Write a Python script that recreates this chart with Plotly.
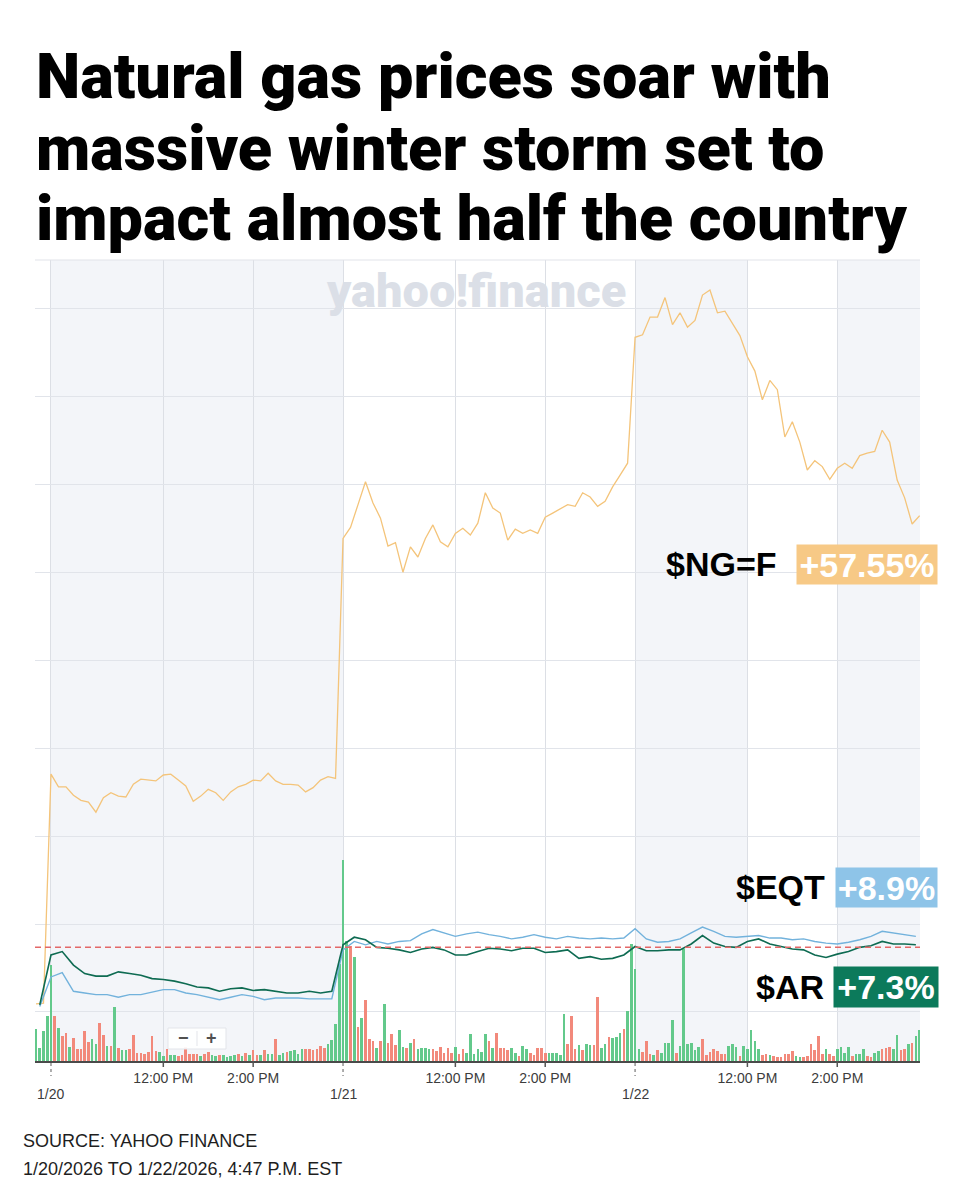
"""Natural gas vs. EQT / AR intraday percent change, 1/20 - 1/22/2026."""

import plotly.graph_objects as go

# x axis: 5-minute bar index, 0 = 1/20 9:30 AM, 78 bars per session
day_ticks = [0, 78, 156]
day_labels = ["1/20", "1/21", "1/22"]
time_ticks = [30, 54, 108, 132, 186, 210]
time_labels = ["12:00 PM", "2:00 PM", "12:00 PM", "2:00 PM", "12:00 PM", "2:00 PM"]

# $NG=F percent change, every 10 minutes starting at bar -4
ng_pct = [
    0.0, 0.1,
    27.2, 25.7, 25.7, 24.7, 24.1, 23.9, 22.7, 24.4, 25.0, 24.6, 24.5, 26.0, 26.6,
    26.5, 26.4, 27.1, 27.2, 26.5, 25.8, 24.0, 24.6, 25.4, 25.0, 24.1, 25.1, 25.7,
    26.0, 26.5, 26.4, 27.3, 26.4, 26.0, 26.0, 25.9, 25.1, 25.6, 26.5, 26.9, 26.7,
    55.1, 56.4, 59.1, 61.8, 59.3, 57.5, 54.2, 54.6, 51.1, 54.1, 52.9, 55.1, 56.7,
    54.7, 54.1, 55.7, 56.3, 55.5, 56.9, 60.5, 58.7, 58.1, 54.9, 56.2, 55.7, 56.1,
    55.7, 57.6, 58.1, 58.6, 59.1, 58.9, 60.5, 60.0, 58.9, 59.5, 61.2, 62.6, 64.0,
    78.9, 79.2, 81.3, 81.3, 83.6, 80.4, 81.8, 80.1, 80.9, 83.9, 84.5, 81.8, 82.0,
    80.6, 79.1, 76.6, 74.9, 71.5, 73.8, 72.7, 67.1, 68.9, 66.5, 63.2, 64.3, 63.6,
    62.1, 63.4, 64.0, 63.4, 64.9, 65.2, 65.4, 67.9, 66.5, 62.0, 59.9, 56.8, 57.8,
]

# $EQT and $AR percent change, every 15 minutes starting at bar -3
eqt_pct = [
    -0.3, 3.2, 3.7, 1.5, 1.3, 1.1, 1.1, 0.8, 1.1, 1.1, 1.4, 1.7, 1.7, 1.3,
    1.1, 0.8, 0.5, 0.8, 1.1, 0.9, 0.5, 0.7, 0.7, 0.7, 0.6, 0.6, 0.6,
    6.4, 7.4, 7.0, 7.4, 7.1, 7.4, 7.5, 8.3, 8.8, 8.4, 8.0, 8.3, 8.5, 8.2,
    8.0, 7.7, 7.9, 8.2, 7.9, 7.7, 8.0, 7.8, 7.7, 7.8, 7.7, 7.8, 8.9, 7.7,
    7.3, 7.4, 7.7, 8.4, 9.1, 8.6, 8.0, 7.9, 8.0, 8.1, 7.8, 7.8, 7.6, 7.7,
    7.4, 7.2, 7.1, 7.3, 7.6, 8.0, 8.6, 8.4, 8.2, 8.0,
]
ar_pct = [
    -0.1, 5.8, 6.2, 4.6, 3.6, 3.3, 3.3, 3.8, 3.6, 3.4, 3.0, 2.9, 2.7, 2.4,
    2.0, 1.9, 1.5, 1.8, 1.9, 1.6, 1.7, 1.5, 1.3, 1.3, 1.5, 1.3, 1.5,
    7.0, 7.9, 7.6, 6.7, 6.6, 6.4, 6.1, 6.5, 6.7, 6.4, 5.8, 5.8, 6.2, 6.6,
    6.5, 6.3, 6.6, 6.6, 6.1, 6.2, 6.4, 5.4, 5.6, 5.3, 5.4, 5.8, 6.8, 6.3,
    6.3, 6.4, 6.4, 7.1, 8.1, 7.2, 6.8, 6.7, 7.4, 7.7, 7.1, 6.8, 6.5, 6.4,
    5.8, 5.5, 5.9, 6.2, 6.7, 6.9, 7.4, 7.1, 7.1, 7.0,
]
ref_line_pct = 6.7

# $NG=F volume per 5-minute bar (relative units), starting at bar -4
volume = [
    32, 13, 30, 45,
    96, 45, 33, 25, 28, 14, 23, 12, 12, 30, 19, 22, 17, 38, 26, 15, 15, 54, 13, 11,
    11, 12, 26, 8, 8, 7, 9, 25, 10, 9, 5, 12, 6, 6, 5, 6, 14, 7, 7, 7, 5, 7, 9, 6,
    5, 6, 6, 4, 5, 6, 7, 5, 8, 6, 11, 6, 6, 11, 7, 7, 22, 6, 8, 9, 10, 11, 7, 12,
    12, 12, 11, 12, 15, 13, 17, 21, 37, 97,
    201, 120, 115, 104, 34, 43, 61, 22, 20, 13, 20, 57, 18, 27, 16, 31, 14, 13, 18,
    22, 12, 13, 13, 12, 12, 10, 14, 8, 13, 8, 14, 7, 12, 8, 27, 7, 12, 9, 27, 20,
    13, 28, 13, 13, 11, 13, 8, 5, 15, 12, 8, 6, 13, 13, 8, 8, 8, 8, 6, 47, 17, 45,
    12, 16, 11, 17, 16, 16, 64, 13, 17, 24, 23, 24, 28, 32, 50, 117, 92, 12, 9, 20,
    7, 6, 11, 8, 18, 18, 41, 8, 15, 112, 17, 18, 11, 14, 22, 6, 9, 12, 10, 7, 7, 15,
    17, 14, 5, 15, 12, 31, 20, 12, 6, 7, 6, 5, 4, 4, 7, 7, 10, 5, 4, 4, 5, 17, 11,
    25, 7, 12, 7, 5, 12, 14, 8, 14, 5, 7, 7, 12, 5, 4, 8, 10, 12, 13, 14, 12, 26,
    11, 12, 17, 18, 25, 31,
]
# g = bar closed up, r = closed down
volume_dir = (
    "gggg"
    "grgrrgrrrr" "rggrrgrgrg" "grrrrrrrrg" "grggrrrrrr" "grrggrgggg"
    "rgrgrrgrgg" "rggrggggrr" "rrrrgggg"
    "ggrgrgrrrg" "rgrrrggrgr" "ggggrrrrrr" "grrggggggr" "grrrrggrgg"
    "rrrrrggggg" "rrrgrggrrg" "grgggrgggg" "rr"
    "rgrggggrgg" "ggggrrrrrr" "rgggrggggg" "rrgrrrrrrg" "grrrrrrgrr"
    "ggggrgggrr" "ggrrrggrrg" "rgg"
)

ng_x = list(range(-4, -4 + 2 * len(ng_pct), 2))
line_x = list(range(-3, -3 + 3 * len(eqt_pct), 3))
vol_x = list(range(-4, -4 + len(volume)))

# canvas geometry (pixels on the page); the page body adds an 8px offset
W, H = 960, 1200
OFF = 8
PL, PR, PT, PB = 35, 920, 260, 1061
X0, X1 = -4.27, 232.1
Y0, Y1 = -6.75, 88.05

NG_COLOR = "#f4c47a"
EQT_COLOR = "#72b2dc"
AR_COLOR = "#0e6b52"
UP_COLOR = "#63c98b"
DOWN_COLOR = "#f2897b"
GRID = "#e1e4ea"
SHADE = "#f3f5f9"
FONT = "Liberation Sans, Arial, sans-serif"


def px(xp):
    return (xp - PL) / (PR - PL)


def py(yp):
    return (PB - yp) / (PB - PT)


def xpaper(idx):
    return (idx - X0) / (X1 - X0)


fig = go.Figure()

fig.add_trace(go.Bar(
    x=vol_x, y=volume, yaxis="y",
    marker=dict(color=[UP_COLOR if d == "g" else DOWN_COLOR for d in volume_dir],
                line=dict(width=0)),
    width=0.7, hoverinfo="skip",
))
fig.add_trace(go.Scatter(x=ng_x, y=ng_pct, yaxis="y2", mode="lines",
                         line=dict(color=NG_COLOR, width=1.3)))
fig.add_trace(go.Scatter(x=line_x, y=eqt_pct, yaxis="y2", mode="lines",
                         line=dict(color=EQT_COLOR, width=1.4)))
fig.add_trace(go.Scatter(x=line_x, y=ar_pct, yaxis="y2", mode="lines",
                         line=dict(color=AR_COLOR, width=1.6)))

shapes = []
# shaded sessions
for a, b in [(0, 78), (156, 186), (210, X1)]:
    shapes.append(dict(type="rect", xref="x", yref="paper", x0=a, x1=b, y0=0, y1=1,
                       fillcolor=SHADE, line=dict(width=0), layer="below"))
# top border
shapes.append(dict(type="line", xref="paper", yref="paper", x0=0, x1=1, y0=1, y1=1,
                   line=dict(color=GRID, width=1.2)))
# reference dashed line
shapes.append(dict(type="line", xref="x", yref="y2", x0=X0, x1=X1,
                   y0=ref_line_pct, y1=ref_line_pct,
                   line=dict(color="#e36868", width=1.5, dash="6px,4px")))
# tick marks below the axis
for t in time_ticks:
    shapes.append(dict(type="line", xref="paper", yref="paper", x0=xpaper(t), x1=xpaper(t),
                       y0=0, y1=-6 / (PB - PT), line=dict(color="#555555", width=1.5)))
for t in day_ticks:
    shapes.append(dict(type="line", xref="paper", yref="paper", x0=xpaper(t), x1=xpaper(t),
                       y0=-2 / (PB - PT), y1=-15 / (PB - PT),
                       line=dict(color="#777777", width=1.2, dash="dot")))
# zoom control
shapes.append(dict(type="rect", xref="paper", yref="paper", x0=px(168), x1=px(226),
                   y0=py(1049), y1=py(1028), fillcolor="rgba(255,255,255,0.92)",
                   line=dict(color="#e3e5ea", width=1)))
shapes.append(dict(type="line", xref="paper", yref="paper", x0=px(197), x1=px(197),
                   y0=py(1046), y1=py(1031), line=dict(color="#e3e5ea", width=1)))

annotations = []
title_lines = [
    "Natural gas prices soar with",
    "massive winter storm set to",
    "impact almost half the country",
]
for line, yc in zip(title_lines, [76, 148, 218]):
    annotations.append(dict(
        text=line, xref="paper", yref="paper", x=px(34), y=py(yc),
        xanchor="left", yanchor="middle", showarrow=False,
        font=dict(family="Roboto, Liberation Sans, sans-serif",
                  size=63, color="#000000", weight=900),
    ))

annotations.append(dict(
    text="yahoo!finance", xref="paper", yref="paper", x=px(476), y=py(290),
    xanchor="center", yanchor="middle", showarrow=False,
    font=dict(family="Roboto, Lato, sans-serif", size=47, color="#dbdfe7", weight=900),
))

for t, lab in zip(day_ticks, day_labels):
    annotations.append(dict(
        text=lab, xref="x", yref="paper", x=t, y=py(1094),
        xanchor="center", yanchor="middle", showarrow=False,
        font=dict(family=FONT, size=14, color="#3c3c3c"),
    ))

annotations.append(dict(text="−", xref="paper", yref="paper", x=px(183), y=py(1038),
                        xanchor="center", yanchor="middle", showarrow=False,
                        font=dict(family=FONT, size=18, color="#505050", weight=700)))
annotations.append(dict(text="+", xref="paper", yref="paper", x=px(211), y=py(1038),
                        xanchor="center", yanchor="middle", showarrow=False,
                        font=dict(family=FONT, size=18, color="#505050", weight=700)))

# end-of-line labels
labels = [
    ("$NG=F", "+57.55%", 779, 564, 867, 140, 39, "#f7c986"),
    ("$EQT", "+8.9%", 827, 887, 886, 101, 39, "#8ec4e8"),
    ("$AR", "+7.3%", 826, 987, 886, 104, 40, "#0c7a5b"),
]
for name, chg, name_right, yc, box_cx, box_w, box_h, color in labels:
    annotations.append(dict(
        text=name, xref="paper", yref="paper", x=px(name_right), y=py(yc),
        xanchor="right", yanchor="middle", showarrow=False,
        font=dict(family=FONT, size=34, color="#000000", weight=700),
    ))
    annotations.append(dict(
        text=chg, xref="paper", yref="paper", x=px(box_cx), y=py(yc),
        xanchor="center", yanchor="middle", showarrow=False,
        width=box_w, height=box_h, bgcolor=color, borderpad=0,
        font=dict(family=FONT, size=34, color="#ffffff", weight=700),
    ))

for text, yc in [("SOURCE: YAHOO FINANCE", 1141),
                 ("1/20/2026 TO 1/22/2026, 4:47 P.M. EST", 1169)]:
    annotations.append(dict(
        text=text, xref="paper", yref="paper", x=px(21), y=py(yc),
        xanchor="left", yanchor="middle", showarrow=False,
        font=dict(family=FONT, size=18, color="#1e1e1e"),
    ))

fig.update_layout(
    width=W, height=H,
    margin=dict(l=PL - OFF, r=W - PR + OFF, t=PT - OFF, b=H - PB + OFF, pad=0),
    paper_bgcolor="#ffffff", plot_bgcolor="#ffffff",
    showlegend=False, bargap=0,
    xaxis=dict(
        range=[X0, X1], tickvals=time_ticks + day_ticks,
        ticktext=time_labels + ["", "", ""], ticks="",
        showgrid=True, gridcolor="#dcdfe5", gridwidth=1,
        showline=True, linecolor="#4a4a4a", linewidth=1.5,
        zeroline=False, ticklabelstandoff=3,
        tickfont=dict(family=FONT, size=14, color="#3c3c3c"),
    ),
    yaxis=dict(range=[0, PB - PT], visible=False, fixedrange=True),
    yaxis2=dict(
        range=[Y0, Y1], overlaying="y", side="left",
        tick0=-0.95, dtick=10.414, showticklabels=False, ticks="",
        showgrid=True, gridcolor=GRID, gridwidth=1.2, zeroline=False, showline=False,
    ),
    shapes=shapes,
    annotations=annotations,
)

fig.write_html("out.html")
